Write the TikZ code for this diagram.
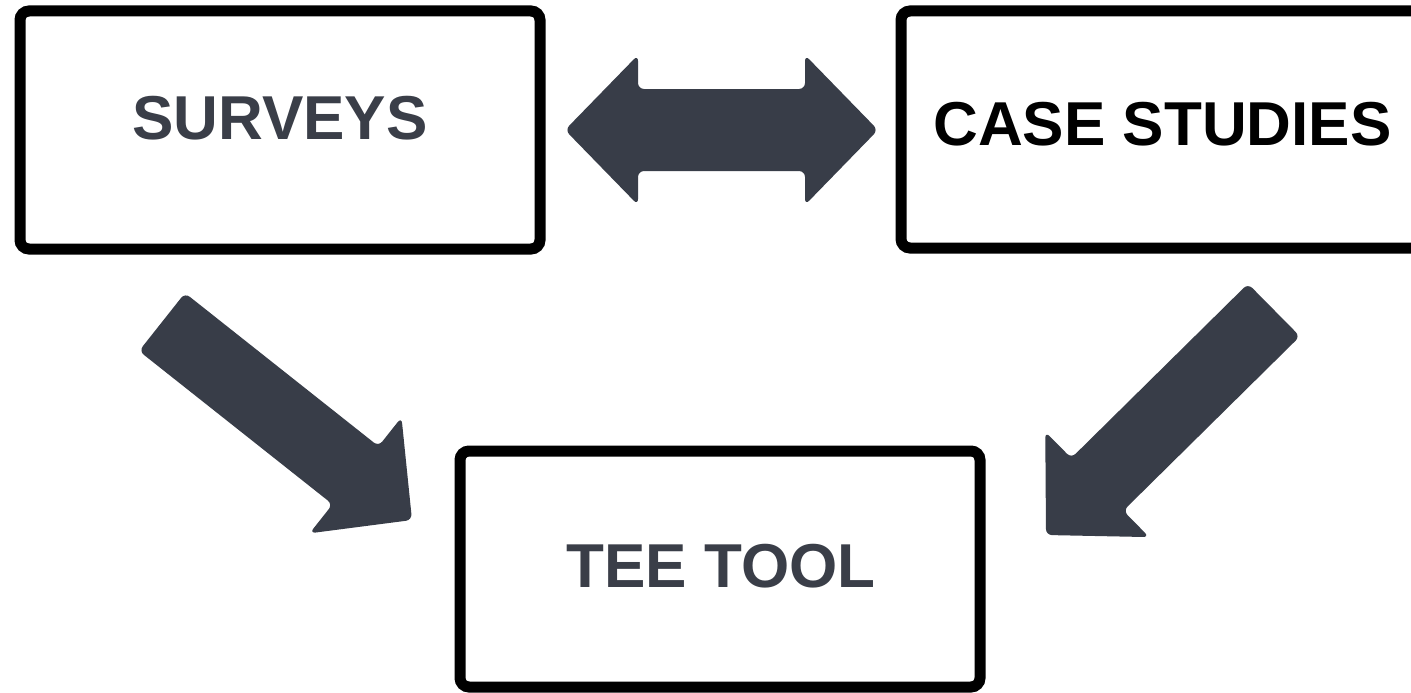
\documentclass[tikz,border=0pt]{standalone}
\usepackage{fontspec}
\setmainfont{Liberation Sans}
\usetikzlibrary{calc}
\definecolor{txtgray}{RGB}{58,62,72}
\definecolor{arrgray}{RGB}{56,61,72}
\tikzset{
  box/.style={draw=black, line width=11pt, rounded corners=9pt, minimum width=520pt, inner sep=0pt, fill=white},
  lbl/.style={font=\fontsize{62}{74}\selectfont\bfseries, inner sep=0pt},
  blk/.style={fill=arrgray, rounded corners=6pt},
}
\newcommand{\blkarrow}[2]{%
  \coordinate (#1-h) at ($(#2)!72pt!(#1)$);
  \fill[blk] ($(#1)!37pt!90:(#2)$) -- ($(#1-h)!37pt!90:(#2)$) -- ($(#1-h)!74pt!90:(#2)$) -- (#2)
     -- ($(#1-h)!74pt!-90:(#2)$) -- ($(#1-h)!37pt!-90:(#2)$) -- ($(#1)!37pt!-90:(#2)$) -- cycle;}
\begin{document}
\begin{tikzpicture}[x=1pt,y=-1pt]
\useasboundingbox (0,0) rectangle (1411,693);
\clip (0,0) rectangle (1411,693);
\fill[white] (0,0) rectangle (1411,693);
% boxes
\node[box, minimum height=238pt] (surveys) at (280,130) {};
\node[box, minimum height=237pt] (case) at (1161,129.5) {};
\node[box, minimum height=236pt] (tee) at (720,569) {};
% labels
\node[lbl, text=txtgray] (tsurveys) at (280,118) {SURVEYS};
\node[lbl, text=black] (tcase) at (1162.5,124) {CASE STUDIES};
\node[lbl, text=txtgray] (ttee) at (721,566) {TEE TOOL};
% double arrow
\coordinate (dl) at (565,130);
\coordinate (dr) at (878,130);
\coordinate (h1) at ($(dl)!73pt!(dr)$);
\coordinate (h2) at ($(dr)!73pt!(dl)$);
\fill[blk] (dl) -- ($(h1)!75pt!90:(dr)$) -- ($(h1)!41pt!90:(dr)$) -- ($(h2)!41pt!-90:(dl)$)
  -- ($(h2)!75pt!-90:(dl)$) -- (dr) -- ($(h2)!75pt!90:(dl)$) -- ($(h2)!41pt!90:(dl)$)
  -- ($(h1)!41pt!-90:(dr)$) -- ($(h1)!75pt!-90:(dr)$) -- cycle;
% diagonal arrows
\coordinate (ltail) at (162,322);
\coordinate (ltip) at (412,520);
\blkarrow{ltail}{ltip}
\coordinate (rtail) at (1274,310);
\coordinate (rtip) at (1046,535);
\blkarrow{rtail}{rtip}
\end{tikzpicture}
\end{document}
